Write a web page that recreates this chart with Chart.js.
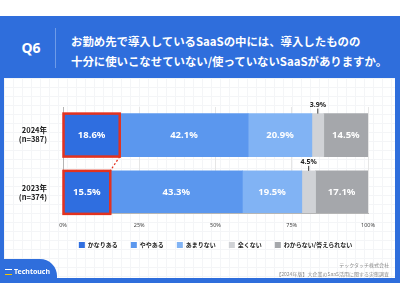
<!DOCTYPE html>
<html>
<head>
<meta charset="utf-8">
<script src="https://cdn.jsdelivr.net/npm/chart.js@4"></script>
<style>
  html, body { margin: 0; padding: 0; background: #fff; }
  body { width: 400px; height: 300px; position: relative; overflow: hidden; font-family: "Noto Sans CJK JP", "Noto Sans", sans-serif; }
  #band { position: absolute; left: 0; top: 16px; width: 400px; height: 267px; background: #2f6edc; }
  #panel { position: absolute; left: 4px; top: 78px; width: 391px; height: 200px; background-color: #fff;
    background-image: linear-gradient(#f4f5f7 1px, transparent 1px), linear-gradient(90deg, #f4f5f7 1px, transparent 1px);
    background-size: 9px 9px; }
  #q { position: absolute; left: 16px; top: 38px; width: 30px; text-align: center; color: #fff; font: bold 14px "Noto Sans", sans-serif; }
  #divider { position: absolute; left: 55px; top: 28px; width: 1px; height: 40px; background: #6e9be8; }
  #title { position: absolute; left: 71px; top: 31px; color: #fff; font-weight: bold; font-size: 11.4px; line-height: 20px; white-space: nowrap; }
  #chartBox { position: absolute; left: 0; top: 90px; width: 400px; height: 172px; }
  #tab { position: absolute; left: 0; top: 259px; width: 57px; height: 24px; background: #2f6edc; border-top-right-radius: 17px; }
  #logo { position: absolute; left: 5px; top: 267px; color: #fff; font: bold 7px "Noto Sans", sans-serif; white-space: nowrap; }
  #logo span { display: inline-block; width: 7px; height: 6px; margin-right: 2px; border-top: 1.5px solid #fff; border-bottom: 1.5px solid #f5c400; box-sizing: border-box; vertical-align: -1px; }
  #note { position: absolute; right: 11px; top: 260px; text-align: right; color: #8a8a8a; font-size: 5px; line-height: 9px; white-space: nowrap; }
</style>
</head>
<body>
<div id="band"></div>
<div id="panel"></div>
<div id="q">Q6</div>
<div id="divider"></div>
<div id="title">お勤め先で導入しているSaaSの中には、導入したものの<br>十分に使いこなせていない/使っていないSaaSがありますか。</div>
<div id="chartBox"><canvas id="chart"></canvas></div>
<div id="tab"></div>
<div id="logo"><span></span>Techtouch</div>
<div id="note">テックタッチ株式会社<br>【2024年版】大企業のSaaS活用に関する実態調査</div>
<script>
const yearLabels = ['2024年', '2023年'];
const sampleSizes = ['(n=387)', '(n=374)'];
const seriesNames = ['かなりある', 'ややある', 'あまりない', '全くない', 'わからない/答えられない'];
const values2024 = [18.6, 42.1, 20.9, 3.9, 14.5];
const values2023 = [15.5, 43.3, 19.5, 4.5, 17.1];
const seriesColors = ['#2f6ee0', '#5b97ee', '#81b3f4', '#d0d2d6', '#a5a7ab'];
const xTicks = [0, 25, 50, 75, 100];

const datasets = seriesNames.map((name, i) => ({
  label: name,
  data: [{ x: values2024[i], y: 0 }, { x: values2023[i], y: 1 }],
  backgroundColor: seriesColors[i],
  borderWidth: 0,
  barThickness: 43
}));

// labels in the segments, the small outside ones, and the red boxes
const overlay = {
  id: 'overlay',
  afterDatasetsDraw(chart) {
    const ctx = chart.ctx;
    ctx.save();
    chart.data.datasets.forEach((ds, di) => {
      chart.getDatasetMeta(di).data.forEach((el, i) => {
        const v = ds.data[i].x;
        const cx = (el.x + el.base) / 2;
        const top = el.y - el.height / 2;
        ctx.textAlign = 'center';
        ctx.textBaseline = 'middle';
        if (di === 3) {
          ctx.strokeStyle = '#333';
          ctx.lineWidth = 1;
          ctx.beginPath();
          ctx.moveTo(cx, top - 5);
          ctx.lineTo(cx, top);
          ctx.stroke();
          ctx.fillStyle = '#222';
          ctx.font = 'bold 7px "Noto Sans", sans-serif';
          ctx.fillText(v.toFixed(1) + '%', cx, top - 9);
        } else {
          ctx.fillStyle = '#fff';
          ctx.font = 'bold 9.5px "Noto Sans", sans-serif';
          ctx.fillText(v.toFixed(1) + '%', cx, el.y);
        }
      });
    });
    const m = chart.getDatasetMeta(0).data;
    ctx.strokeStyle = '#e3321f';
    ctx.lineWidth = 2.5;
    m.forEach(el => {
      ctx.strokeRect(el.base, el.y - el.height / 2, el.x - el.base, el.height);
    });
    ctx.lineWidth = 1.3;
    ctx.setLineDash([2, 2]);
    ctx.beginPath();
    ctx.moveTo(m[0].x, m[0].y + m[0].height / 2);
    ctx.lineTo(m[1].x, m[1].y - m[1].height / 2);
    ctx.stroke();
    ctx.restore();
  }
};

new Chart(document.getElementById('chart'), {
  type: 'bar',
  data: { datasets },
  options: {
    indexAxis: 'y',
    responsive: true,
    maintainAspectRatio: false,
    animation: false,
    layout: { padding: { top: 13, right: 32, left: 0, bottom: 4 } },
    plugins: {
      tooltip: { enabled: false },
      legend: {
        position: 'bottom',
        fullSize: false,
        labels: {
          boxWidth: 6, boxHeight: 6, padding: 13, color: '#222',
          font: { size: 6, weight: 'bold', family: '"Noto Sans CJK JP", sans-serif' }
        }
      }
    },
    scales: {
      x: {
        stacked: true, min: 0, max: 100,
        afterBuildTicks: s => { s.ticks = xTicks.map(v => ({ value: v })); },
        afterFit: s => { s.height = 16; },
        ticks: { callback: v => v + '%', color: '#444', padding: 9, font: { size: 5.5, family: '"Noto Sans", sans-serif' } },
        grid: { color: c => c.tick && c.tick.value === 0 ? '#b5b5b5' : '#e6e6e6', drawTicks: false },
        border: { color: '#b5b5b5' }
      },
      y: {
        type: 'linear', stacked: true, reverse: true, min: -0.49, max: 1.36,
        offset: false,
        afterBuildTicks: s => { s.ticks = [{ value: 0 }, { value: 1 }]; },
        afterFit: s => { s.width = 63; },
        ticks: {
          callback: v => [yearLabels[v], sampleSizes[v]],
          color: '#222', padding: 8,
          font: { size: 7.5, weight: 'bold', family: '"Noto Sans CJK JP", sans-serif' }
        },
        grid: { display: false, offset: false },
        border: { display: false }
      }
    }
  },
  plugins: [overlay]
});
</script>
</body>
</html>
